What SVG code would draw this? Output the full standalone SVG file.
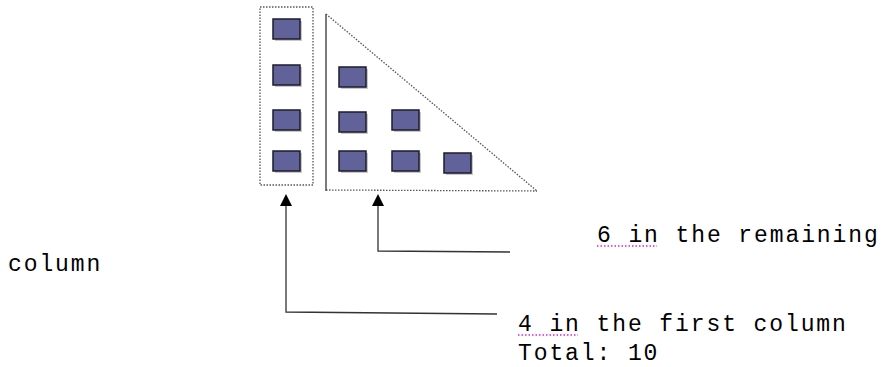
<svg xmlns="http://www.w3.org/2000/svg" width="885" height="367" viewBox="0 0 885 367">
<defs>
<style>
.sq{fill:#62629a;stroke:#1c1c2c;stroke-width:1.5}
.sh{fill:#c8c8c8}
.dot{fill:none;stroke:#555;stroke-width:1.3;stroke-dasharray:1.5 1.5}
.ln{fill:none;stroke:#333;stroke-width:1.3}
.t{font-family:"Liberation Mono","Courier New",monospace;font-size:23px;letter-spacing:1.9px;fill:#000}
.sp{stroke:#e020e0;stroke-width:1.5;stroke-dasharray:1.5 2}
</style>
<g id="sqdef"><rect class="sh" x="2" y="2" width="27" height="20"/><rect class="sq" x="0" y="0" width="27" height="20"/></g>
</defs>
<rect fill="#fff" width="885" height="367"/>
<g id="first-column">
<rect class="dot" x="260" y="7" width="53" height="178"/>
<use href="#sqdef" x="273" y="19"/>
<use href="#sqdef" x="273" y="65"/>
<use href="#sqdef" x="273" y="110"/>
<use href="#sqdef" x="273" y="151"/>
</g>
<g id="triangle">
<line class="ln" x1="326" y1="14" x2="326" y2="191"/>
<line class="dot" x1="326" y1="14" x2="537" y2="191"/>
<line class="dot" x1="326" y1="190" x2="537" y2="191"/>
<use href="#sqdef" x="339" y="67"/>
<use href="#sqdef" x="339" y="112"/>
<use href="#sqdef" x="392" y="110"/>
<use href="#sqdef" x="339" y="151"/>
<use href="#sqdef" x="392" y="151"/>
<use href="#sqdef" x="444" y="153"/>
</g>
<g id="connectors">
<polyline class="ln" points="510,252 378,251 378,204"/>
<polygon points="378,194 372,206 384,206" fill="#000"/>
<polyline class="ln" points="497,314 286,312 286,204"/>
<polygon points="286,194 280,206 292,206" fill="#000"/>
</g>
<g id="labels">
<text class="t" x="597" y="242">6 in the remaining</text>
<line class="sp" x1="597" y1="246" x2="657" y2="246"/>
<text class="t" x="8" y="271">column</text>
<text class="t" x="518" y="331">4 in the first column</text>
<line class="sp" x1="518" y1="335" x2="578" y2="335"/>
<text class="t" x="518" y="360">Total: 10</text>
</g>
</svg>
